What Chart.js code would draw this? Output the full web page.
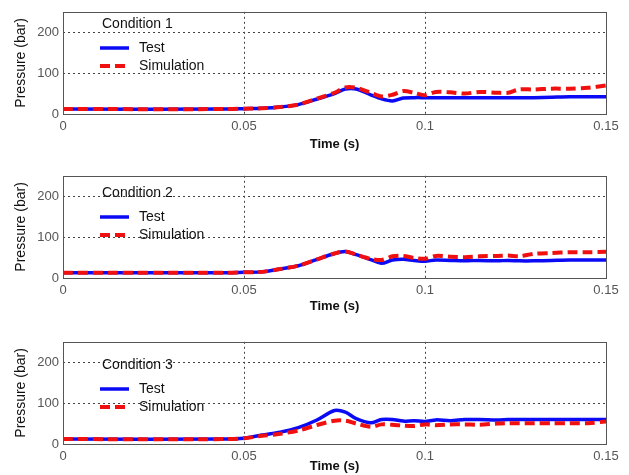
<!DOCTYPE html>
<html>
<head>
<meta charset="utf-8">
<script src="https://cdn.jsdelivr.net/npm/chart.js@4/dist/chart.umd.min.js"></script>
<style>
  html, body { margin: 0; padding: 0; background: #fff; overflow: hidden; }
  .panel { position: absolute; left: 0; }
</style>
</head>
<body>
<canvas id="c1" class="panel" width="629" height="160" style="top:0px"></canvas>
<canvas id="c2" class="panel" width="629" height="160" style="top:164px"></canvas>
<canvas id="c3" class="panel" width="629" height="160" style="top:330px"></canvas>
<script>
// data
const time = [0, 0.045, 0.05, 0.055, 0.06, 0.065, 0.07, 0.075, 0.078, 0.081, 0.085, 0.088, 0.091, 0.094,
              0.097, 0.1, 0.103, 0.107, 0.111, 0.115, 0.12, 0.123, 0.126, 0.13, 0.135, 0.14, 0.145, 0.15];

const test1 = [12, 12, 13, 14, 17, 23, 36, 50, 61, 61, 47, 37, 32, 39,
               40, 40, 40, 40, 40, 40, 40, 40, 40, 40, 41, 42, 42, 42];
const sim1  = [12, 12, 13, 14, 17, 23, 37, 52, 65, 64, 52, 43, 47, 56,
               52, 46, 54, 53, 50, 54, 52, 52, 60, 60, 62, 62, 64, 70];

const test2 = [13, 13, 14, 15, 22, 30, 45, 60, 65, 57, 45, 36, 44, 46,
               43, 41, 44, 43, 42, 43, 42, 43, 42, 42, 43, 44, 44, 44];
const sim2  = [13, 13, 14, 15, 22, 30, 45, 60, 65, 57, 47, 44, 53, 54,
               49, 47, 54, 52, 51, 53, 54, 55, 53, 59, 61, 63, 63, 64];

const test3 = [12, 12, 14, 22, 29, 40, 58, 82, 78, 62, 52, 60, 60, 56,
               57, 55, 59, 57, 60, 60, 59, 60, 60, 60, 60, 60, 60, 60];
const sim3  = [12, 12, 14, 20, 25, 33, 46, 57, 57, 50, 42, 48, 47, 45,
               44, 48, 46, 48, 48, 47, 50, 51, 51, 51, 51, 51, 51, 55];

const xTicks = [0, 0.05, 0.1, 0.15];
const yTicks = [0, 100, 200];
const conditionNames = ["Condition 1", "Condition 2", "Condition 3"];
const seriesNames = ["Test", "Simulation"];

const panels = [
  { id: "c1", test: test1, sim: sim1, legendY: 24, titlePad: 8 },
  { id: "c2", test: test2, sim: sim2, legendY: 29, titlePad: 10 },
  { id: "c3", test: test3, sim: sim3, legendY: 35, titlePad: 16 }
];

const BLUE = "#0a0af5";
const RED = "#f01010";
const FONT = "'Liberation Sans', Arial, sans-serif";

// box around plot + legend inside the axes
const boxAndLegend = {
  id: "boxAndLegend",
  afterDatasetsDraw(chart, args, opts) {
    const ctx = chart.ctx;
    const a = chart.chartArea;
    ctx.save();
    ctx.strokeStyle = "#555";
    ctx.lineWidth = 1;
    ctx.strokeRect(Math.round(a.left) + 0.5, Math.round(a.top) + 0.5,
                   Math.round(a.right - a.left), Math.round(a.bottom - a.top));

    const y0 = opts.legendY;
    ctx.fillStyle = "#111";
    ctx.font = "14px " + FONT;
    ctx.textBaseline = "middle";
    ctx.textAlign = "left";
    ctx.fillText(opts.title, 102, y0);

    const ds = chart.data.datasets;
    const rows = [ds[1], ds[0]]; // Test, Simulation
    rows.forEach((d, i) => {
      const y = y0 + 24 + i * 18;
      ctx.beginPath();
      ctx.strokeStyle = d.borderColor;
      ctx.lineWidth = d.borderWidth;
      ctx.setLineDash(d.borderDash || []);
      ctx.moveTo(100, y);
      ctx.lineTo(129, y);
      ctx.stroke();
      ctx.setLineDash([]);
      ctx.fillStyle = "#111";
      ctx.fillText(d.label, 139, y);
    });
    ctx.restore();
  }
};

function makeChart(p, idx) {
  const ctx = document.getElementById(p.id).getContext("2d");
  return new Chart(ctx, {
    type: "line",
    data: {
      labels: time,
      datasets: [
        {
          label: seriesNames[1],
          data: p.sim,
          borderColor: RED,
          borderWidth: 4,
          borderDash: [10, 5],
          pointRadius: 0,
          tension: 0.3,
          order: 0
        },
        {
          label: seriesNames[0],
          data: p.test,
          borderColor: BLUE,
          borderWidth: 3.5,
          pointRadius: 0,
          tension: 0.3,
          order: 1
        }
      ]
    },
    options: {
      responsive: false,
      animation: false,
      devicePixelRatio: 1,
      layout: { padding: { left: 0, top: 8, right: 23, bottom: 0 } },
      plugins: {
        legend: { display: false },
        tooltip: { enabled: false },
        boxAndLegend: { title: conditionNames[idx], legendY: p.legendY }
      },
      scales: {
        x: {
          type: "linear",
          min: 0,
          max: 0.15,
          afterBuildTicks: axis => { axis.ticks = xTicks.map(v => ({ value: v })); },
          afterFit: axis => { axis.height = 46; },
          ticks: {
            color: "#555",
            font: { size: 13, family: FONT },
            padding: 5,
            maxRotation: 0,
            callback: v => String(v)
          },
          grid: {
            color: c => (c.tick && (c.tick.value === 0 || c.tick.value === 0.15)) ? "rgba(0,0,0,0)" : "#444",
            lineWidth: 1,
            drawTicks: false
          },
          border: { display: false, dash: [2, 3] },
          title: {
            display: true,
            text: "Time (s)",
            color: "#111",
            font: { size: 13, weight: "bold", family: FONT },
            padding: { top: 0, bottom: p.titlePad }
          }
        },
        y: {
          min: 0,
          max: 250,
          afterBuildTicks: axis => { axis.ticks = yTicks.map(v => ({ value: v })); },
          afterFit: axis => { axis.width = 63; },
          ticks: {
            color: "#555",
            font: { size: 13, family: FONT },
            padding: 4
          },
          grid: {
            color: c => (c.tick && c.tick.value === 0) ? "rgba(0,0,0,0)" : "#444",
            lineWidth: 1,
            drawTicks: false
          },
          border: { display: false, dash: [2, 3] },
          title: {
            display: true,
            text: "Pressure (bar)",
            color: "#111",
            font: { size: 14, family: FONT },
            padding: { top: 13, bottom: 0 }
          }
        }
      }
    },
    plugins: [boxAndLegend]
  });
}

// x is linear, so feed {x, y} points built from the arrays
panels.forEach((p, i) => {
  p.test = p.test.map((v, k) => ({ x: time[k], y: v }));
  p.sim = p.sim.map((v, k) => ({ x: time[k], y: v }));
  makeChart(p, i);
});
</script>
</body>
</html>
